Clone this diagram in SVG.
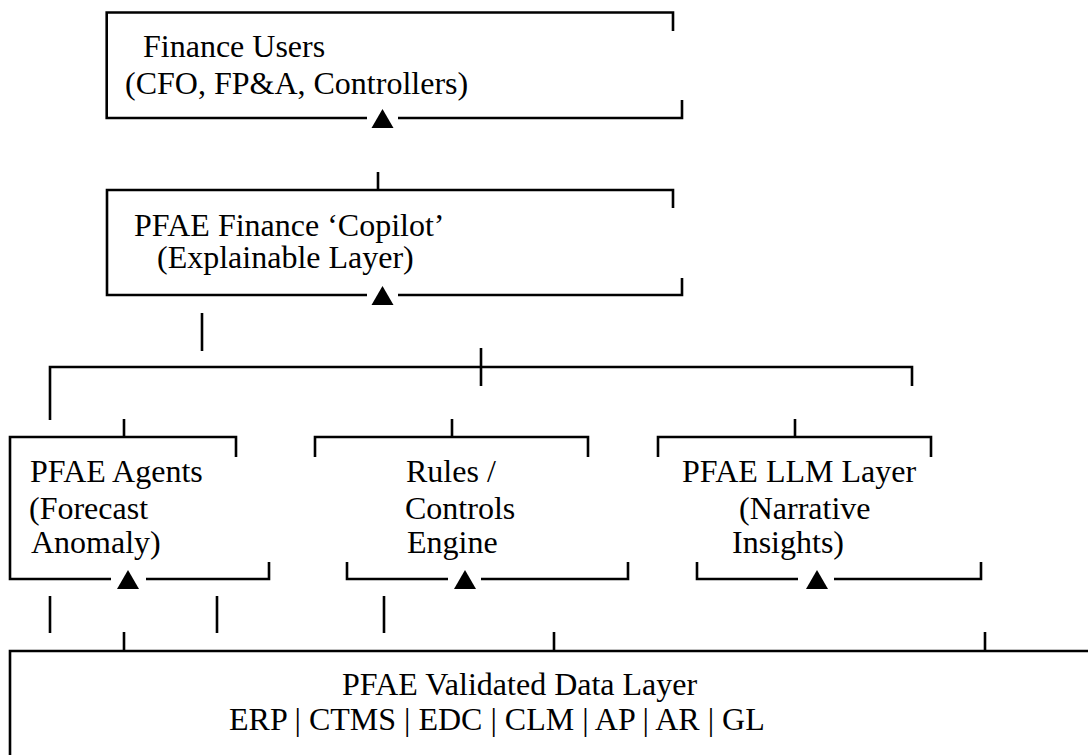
<svg xmlns="http://www.w3.org/2000/svg" xmlns:xlink="http://www.w3.org/1999/xlink" width="1088" height="755" viewBox="0 0 1088 755">
  <style>
    .ln { stroke: #000; stroke-width: 2.6; fill: none; stroke-linecap: butt; }
    .lbl { font-family: 'Liberation Serif', 'Times New Roman', serif; font-size: 32px; fill: #000; }
  </style>
  <defs>
    <!-- upward marker sitting on a box's bottom border -->
    <path id="tri" d="M0,-9 L11,10 L-11,10 Z" fill="#000"/>
  </defs>
  <rect width="1088" height="755" fill="#fff"/>

  <!-- top box -->
  <g id="finance-users">
    <path class="ln" d="M673,31 V12.5 H106.7 V118 H367 M398,118 H682 V100"/>
    <use xlink:href="#tri" x="382.5" y="118"/>
    <text class="lbl" x="143" y="57">Finance Users</text>
    <text class="lbl" x="125" y="94">(CFO, FP&amp;A, Controllers)</text>
  </g>

  <!-- copilot box -->
  <g id="copilot">
    <path class="ln" d="M673,208 V190 H107 V295 H367 M398,295 H682 V278"/>
    <use xlink:href="#tri" x="382.5" y="295"/>
    <text class="lbl" x="134" y="236">PFAE Finance ‘Copilot’</text>
    <text class="lbl" x="157" y="268">(Explainable Layer)</text>
  </g>

  <!-- agents box -->
  <g id="agents">
    <path class="ln" d="M236,457 V437 H10 V579 H111 M146,579 H269 V562"/>
    <use xlink:href="#tri" x="128" y="579"/>
    <text class="lbl" x="30" y="482">PFAE Agents</text>
    <text class="lbl" x="29" y="519">(Forecast</text>
    <text class="lbl" x="31" y="553">Anomaly)</text>
  </g>

  <!-- rules / controls box -->
  <g id="rules">
    <path class="ln" d="M315,457 V437 H588 V457 M347,562 V579 H448 M481,579 H628 V562"/>
    <use xlink:href="#tri" x="465" y="579"/>
    <text class="lbl" x="406" y="482">Rules /</text>
    <text class="lbl" x="405" y="519">Controls</text>
    <text class="lbl" x="407" y="553">Engine</text>
  </g>

  <!-- LLM layer box -->
  <g id="llm">
    <path class="ln" d="M658,457 V437 H931 V457 M697,562 V579 H798 M834,579 H981 V562"/>
    <use xlink:href="#tri" x="817" y="579"/>
    <text class="lbl" x="682" y="482">PFAE LLM Layer</text>
    <text class="lbl" x="739" y="519">(Narrative</text>
    <text class="lbl" x="732" y="553">Insights)</text>
  </g>

  <!-- validated data layer -->
  <g id="data-layer">
    <path class="ln" d="M10,755 V651 H1088"/>
    <text class="lbl" x="342" y="695">PFAE Validated Data Layer</text>
    <text class="lbl" x="229" y="730">ERP | CTMS | EDC | CLM | AP | AR | GL</text>
  </g>

  <!-- connectors -->
  <g id="connectors">
    <path class="ln" d="M378,172 V190"/>
    <path class="ln" d="M202,313 V351"/>
    <path class="ln" d="M50,420 V367 H912 V386"/>
    <path class="ln" d="M481,348 V386"/>
    <path class="ln" d="M124,419 V437 M452,419 V437 M795,419 V437"/>
    <path class="ln" d="M50,596 V633 M217,596 V633 M384,596 V633"/>
    <path class="ln" d="M124,632 V651 M554,632 V651 M985,632 V651"/>
  </g>
</svg>
